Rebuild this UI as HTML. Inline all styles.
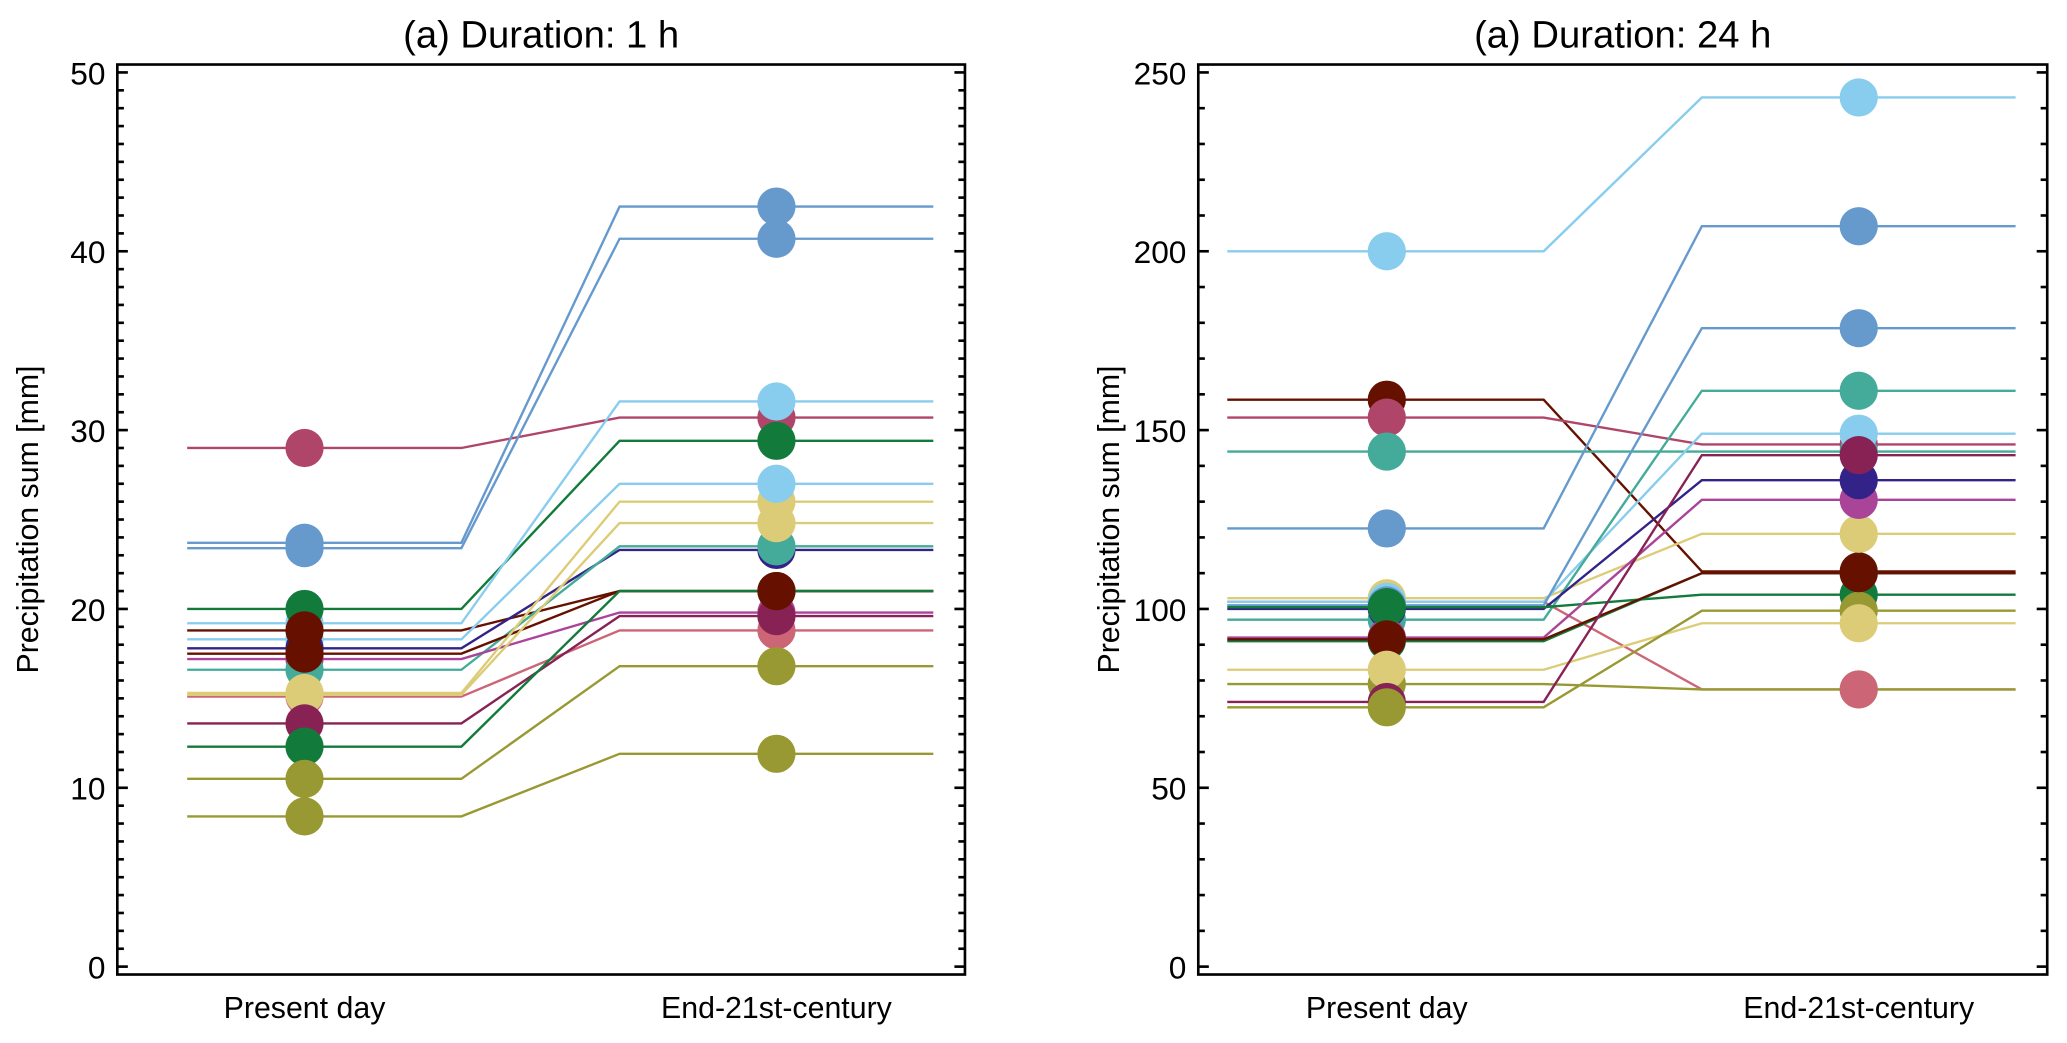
<!DOCTYPE html>
<html><head><meta charset="utf-8"><style>html,body{margin:0;padding:0;background:#fff}svg{display:block}</style></head>
<body>
<svg id="s" width="2067" height="1043" viewBox="0 0 1568 792" preserveAspectRatio="none" xmlns="http://www.w3.org/2000/svg" font-family="Liberation Sans, Arial, sans-serif"></svg>
<script>
const s=document.getElementById('s');let h='';
const C={lb:'#88ccee',bl:'#6699cc',gr:'#127a3a',br:'#661100',nv:'#332288',pu:'#aa4499',te:'#44aa99',sa:'#ddcc77',ro:'#cc6677',wi:'#882255',ol:'#999933',mp:'#b0456a'};
function panel(x0,x1,y0,y1,vmax,step,minor,title,data,pOrd,eOrd,px,ex,l0,l1,l2,l3){
 const yb=y1-6, yt=y0+6, Yv=v=>yb-(v/vmax)*(yb-yt);
 for(let v=0;v<=vmax+1e-9;v+=minor){const y=Yv(v);const L=(Math.abs(v/step-Math.round(v/step))<1e-6)?8:5;
  h+=`<line x1="${x0}" y1="${y}" x2="${x0+L}" y2="${y}" stroke="#000" stroke-width="2"/><line x1="${x1}" y1="${y}" x2="${x1-L}" y2="${y}" stroke="#000" stroke-width="2"/>`;
  if(L==8) h+=`<text x="${x0-9}" y="${y+9}" font-size="24" text-anchor="end">${v}</text>`;}
 data.forEach(d=>{const a=Yv(d[0]),b=Yv(d[1]);h+=`<polyline points="${l0},${a} ${l1},${a} ${l2},${b} ${l3},${b}" fill="none" stroke="${C[d[2]]}" stroke-width="1.8"/>`;});
 pOrd.forEach(i=>{const d=data[i];h+=`<circle cx="${px}" cy="${Yv(d[0])}" r="14.5" fill="${C[d[2]]}"/>`;});
 eOrd.forEach(i=>{const d=data[i];h+=`<circle cx="${ex}" cy="${Yv(d[1])}" r="14.5" fill="${C[d[2]]}"/>`;});
 h+=`<rect x="${x0}" y="${y0}" width="${x1-x0}" height="${y1-y0}" fill="none" stroke="#000" stroke-width="2"/>`;
 h+=`<text x="${(x0+x1)/2}" y="36" font-size="29" text-anchor="middle">${title}</text>`;
 h+=`<text x="${px}" y="773" font-size="23" text-anchor="middle">Present day</text><text x="${ex}" y="773" font-size="23" text-anchor="middle">End-21st-century</text>`;
 h+=`<text transform="translate(${x0-60},${(y0+y1)/2}) rotate(-90)" font-size="23" text-anchor="middle">Precipitation sum [mm]</text>`;
}
const r=n=>[...Array(n).keys()];
const d1=[[29,30.7,'mp'],[23.7,42.5,'bl'],[23.4,40.7,'bl'],[20,29.4,'gr'],[19.2,31.6,'lb'],[18.8,21,'br'],[18.3,27,'lb'],[17.8,23.3,'nv'],[16.6,23.5,'te'],[17.2,19.8,'pu'],[17.5,21,'br'],[15.1,18.8,'ro'],[15.3,26,'sa'],[15.2,24.8,'sa'],[13.6,19.6,'wi'],[12.3,21,'gr'],[10.5,16.8,'ol'],[8.4,11.9,'ol']];
panel(89,732,49,740,50,10,1,'(a) Duration: 1 h',d1,[0,1,2,4,6,7,9,8,3,11,12,13,14,15,16,17,5,10],[15,11,9,14,7,8,5,10,13,12,6,0,4,3,1,2,16,17],231,589,142,350,470,708);
const d2=[[200,243,'lb'],[158.5,110.5,'br'],[153.5,146,'mp'],[144,144,'te'],[122.5,207,'bl'],[102,77.5,'ro'],[103,121,'sa'],[102,149,'lb'],[101,178.5,'bl'],[97,161,'te'],[100,136,'nv'],[100.5,104,'gr'],[92,130.5,'pu'],[91,110,'gr'],[91.5,110,'br'],[83,96,'sa'],[79,77.5,'ol'],[74,143,'wi'],[72.5,99.5,'ol']];
panel(909,1553,49,740,250,50,10,'(a) Duration: 24 h',d2,[0,1,2,3,4,5,6,7,8,9,10,12,11,13,14,16,15,17,18],[16,0,1,2,3,4,6,7,8,9,11,13,18,15,12,10,17,14,5],1052,1410,931,1171,1291,1529);
s.innerHTML=h;
</script>
</body></html>
